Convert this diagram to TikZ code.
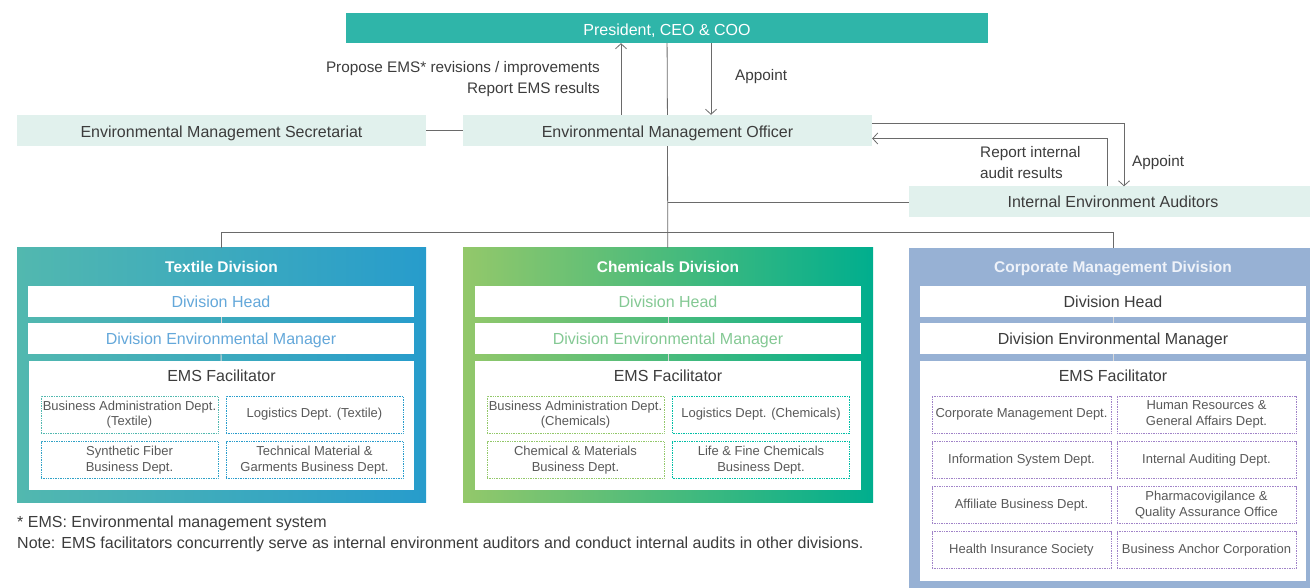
\documentclass[tikz,border=0pt]{standalone}
\usepackage{fontspec}
\setmainfont{Liberation Sans}
\usetikzlibrary{arrows.meta}

\definecolor{ceoTeal}{HTML}{2FB5A9}
\definecolor{mintFill}{HTML}{E1F1ED}
\definecolor{lineGray}{HTML}{6A6A6A}
\definecolor{textGray}{HTML}{3C3C3C}
\definecolor{texLeft}{HTML}{52B8AF}
\definecolor{texRight}{HTML}{279CCC}
\definecolor{texText}{HTML}{64A8DA}
\definecolor{chemLeft}{HTML}{93C86A}
\definecolor{chemRight}{HTML}{00AE8E}
\definecolor{chemText}{HTML}{84C994}
\definecolor{corpFill}{HTML}{97B1D4}
\definecolor{corpTitle}{HTML}{EEF2F9}
\definecolor{corpDot}{HTML}{A083C8}

\begin{document}
\begin{tikzpicture}[x=1pt, y=-1pt, font=\fontsize{16}{21}\selectfont, >={Straight Barb[length=5pt,width=11pt]}]
    \tikzstyle{top_box} = [fill=mintFill, text=textGray, minimum height=31, inner sep=0, text height=11.5pt, text depth=0pt]
    \tikzstyle{div_box} = [minimum width=409, minimum height=254, inner sep=0]
    \tikzstyle{div_title} = [text=white, inner sep=0, text height=11.1pt, text depth=0pt, font=\fontsize{15.5}{17}\selectfont\bfseries]
    \tikzstyle{head_box} = [fill=white, minimum width=386, minimum height=31, inner sep=0, text height=11.5pt, text depth=0pt]
    \tikzstyle{fac_box} = [fill=white, minimum width=385, inner sep=0]
    \tikzstyle{fac_title} = [text=textGray, inner sep=0, text height=11.5pt, text depth=0pt]
    \tikzstyle{dept_box} = [densely dotted, line width=0.7pt, minimum width=177, minimum height=37, inner sep=0, align=center, text=textGray!85, font=\fontsize{13}{15.5}\selectfont]
    \tikzstyle{gray_line} = [lineGray, line width=0.8pt]
    \tikzstyle{gray_arrow} = [->, lineGray, line width=0.8pt]
    \tikzstyle{inner_line} = [white!70!gray, line width=0.8pt]
    \tikzstyle{label_text} = [text=textGray, inner sep=0]
    \tikzstyle{arrow_label} = [label_text, font=\fontsize{15.3}{21}\selectfont]

    \useasboundingbox (0,0) rectangle (1310,588);

    % top level
    \node[fill=ceoTeal, text=white, minimum width=642, minimum height=30, inner sep=0, text height=15.5pt, text depth=0pt] (pres) at (667,28) {President, CEO \& COO};
    \node[top_box, minimum width=409, text height=14pt] (sec) at (221.5,130.5) {Environmental Management Secretariat};
    \node[top_box, minimum width=409, text height=14pt] (ofc) at (667.5,130.5) {Environmental Management Officer};
    \node[top_box, minimum width=408] (aud) at (1113,202) {Internal Environment Auditors};

    \node[arrow_label, align=right, anchor=east] (lblPropose) at (600,79.5) {Propose EMS* revisions / improvements\\Report EMS results};
    \node[arrow_label, anchor=west] (lblAppoint) at (735,77) {Appoint};
    \node[arrow_label, align=left, anchor=west] (lblReport) at (980,162.5) {Report internal\\audit results};
    \node[arrow_label, anchor=west] (lblAppoint2) at (1132,163) {Appoint};

    % divisions
    \node[div_box, left color=texLeft, right color=texRight] (tex) at (221.5,375) {};
    \node[div_box, minimum width=410, left color=chemLeft, right color=chemRight] (chem) at (668,375) {};
    \node[div_box, minimum height=352, fill=corpFill] (corp) at (1113.5,424) {};

    \draw[gray_line] (sec) -- (ofc);
    \draw[gray_line] (pres) -- (ofc);
    \draw[gray_arrow] (ofc.north -| 621,0) -- (pres.south -| 621,0);
    \draw[gray_arrow] (pres.south -| 711,0) -- (ofc.north -| 711,0);
    \draw[gray_arrow] ([yshift=7pt]ofc.east) -| ([xshift=11pt]aud.north);
    \draw[gray_arrow] ([xshift=-5.5pt]aud.north) |- ([yshift=-8pt]ofc.east);
    \draw[gray_line] (ofc) -- (chem);
    \draw[gray_line] (ofc.south |- aud.west) -- (aud.west);
    \draw[gray_line] (tex.north) |- (corp.north |- 0,232) -- (corp.north);

    % Textile Division
    \node[div_title] (texTitle) at (221.5,266.5) {Textile Division};
    \node[head_box, text=texText] (texHead) at (221,301.5) {Division Head};
    \node[head_box, text=texText] (texDem) at (221,338.5) {Division Environmental Manager};
    \node[fac_box, minimum height=129] (texFac) at (221.5,425.5) {};
    \draw[inner_line] (texHead) -- (texDem);
    \draw[inner_line] (texDem) -- (texFac);
    \node[fac_title] (texFacTitle) at (221.5,376) {EMS Facilitator};
    \node[dept_box, draw=texLeft] (texD1) at (129.5,414.5) {Business Administration Dept.\\(Textile)};
    \node[dept_box, draw=texRight] (texD2) at (314.5,414.5) {Logistics Dept. (Textile)};
    \node[dept_box, draw=texRight!80!texLeft] (texD3) at (129.5,460) {Synthetic Fiber\\Business Dept.};
    \node[dept_box, draw=texRight] (texD4) at (314.5,460) {Technical Material \&\\Garments Business Dept.};

    % Chemicals Division
    \node[div_title] (chemTitle) at (668,266.5) {Chemicals Division};
    \node[head_box, text=chemText] (chemHead) at (668,301.5) {Division Head};
    \node[head_box, text=chemText] (chemDem) at (668,338.5) {Division Environmental Manager};
    \node[fac_box, minimum height=129, minimum width=386] (chemFac) at (668,425.5) {};
    \draw[inner_line] (chemHead) -- (chemDem);
    \draw[inner_line] (chemDem) -- (chemFac);
    \node[fac_title] (chemFacTitle) at (668,376) {EMS Facilitator};
    \node[dept_box, draw=chemLeft] (chemD1) at (575.5,414.5) {Business Administration Dept.\\(Chemicals)};
    \node[dept_box, draw=chemRight!80!cyan] (chemD2) at (761,414.5) {Logistics Dept. (Chemicals)};
    \node[dept_box, draw=chemLeft] (chemD3) at (575.5,460) {Chemical \& Materials\\Business Dept.};
    \node[dept_box, draw=chemRight!80!cyan] (chemD4) at (761,460) {Life \& Fine Chemicals\\Business Dept.};

    % Corporate Management Division
    \node[div_title, text=corpTitle] (corpTitle) at (1113,266.5) {Corporate Management Division};
    \node[head_box, text=textGray] (corpHead) at (1113,301.5) {Division Head};
    \node[head_box, text=textGray] (corpDem) at (1113,338.5) {Division Environmental Manager};
    \node[fac_box, minimum height=220, minimum width=386] (corpFac) at (1113,471) {};
    \draw[inner_line] (corpHead) -- (corpDem);
    \draw[inner_line] (corpDem) -- (corpFac);
    \node[fac_title] (corpFacTitle) at (1113,376) {EMS Facilitator};
    \node[dept_box, draw=corpDot, minimum width=179] (corpD1) at (1021.5,414.5) {Corporate Management Dept.};
    \node[dept_box, draw=corpDot, minimum width=179] (corpD2) at (1206.5,414.5) {Human Resources \&\\General Affairs Dept.};
    \node[dept_box, draw=corpDot, minimum width=179] (corpD3) at (1021.5,460) {Information System Dept.};
    \node[dept_box, draw=corpDot, minimum width=179] (corpD4) at (1206.5,460) {Internal Auditing Dept.};
    \node[dept_box, draw=corpDot, minimum width=179] (corpD5) at (1021.5,505) {Affiliate Business Dept.};
    \node[dept_box, draw=corpDot, minimum width=179] (corpD6) at (1206.5,505) {Pharmacovigilance \&\\Quality Assurance Office};
    \node[dept_box, draw=corpDot, minimum width=179] (corpD7) at (1021.5,550) {Health Insurance Society};
    \node[dept_box, draw=corpDot, minimum width=179] (corpD8) at (1206.5,550) {Business Anchor Corporation};

    % notes
    \node[label_text, anchor=west] (note1) at (17,523) {* EMS: Environmental management system};
    \node[label_text, anchor=west] (note2) at (17,544) {Note: EMS facilitators concurrently serve as internal environment auditors and conduct internal audits in other divisions.};
\end{tikzpicture}
\end{document}
